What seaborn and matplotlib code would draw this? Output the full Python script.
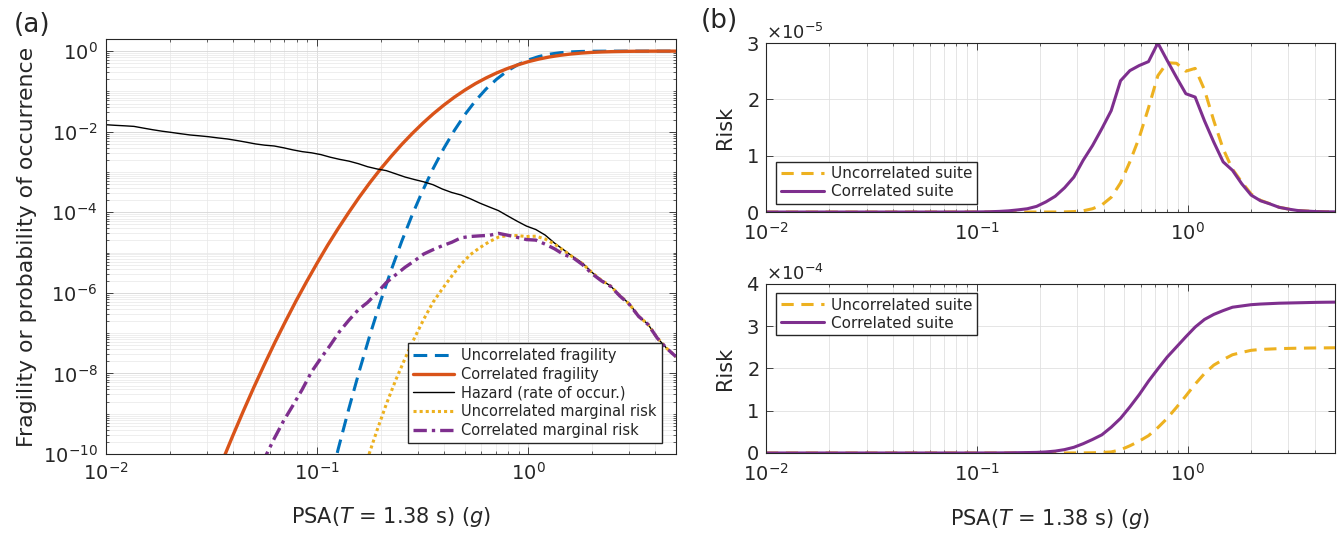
import numpy as np
import pandas as pd
import matplotlib
matplotlib.use("Agg")
import matplotlib.pyplot as plt
import seaborn as sns
from matplotlib.ticker import (LogLocator, NullFormatter, LogFormatterSciNotation,
                               ScalarFormatter, FixedLocator)

# ---------------------------------------------------------------------------
# Spectral acceleration grid (g) for hazard and risk
psa = [0.01000, 0.01107, 0.01226, 0.01357, 0.01503, 0.01664, 0.01842, 0.02040, 0.02259, 0.02501,
       0.02769, 0.03066, 0.03396, 0.03760, 0.04163, 0.04610, 0.05105, 0.05652, 0.06259, 0.06930,
       0.07674, 0.08497, 0.09408, 0.1042, 0.1153, 0.1277, 0.1414, 0.1566, 0.1734, 0.1920,
       0.2126, 0.2354, 0.2606, 0.2886, 0.3195, 0.3538, 0.3917, 0.4338, 0.4803, 0.5318,
       0.5888, 0.6520, 0.7219, 0.7993, 0.8851, 0.9800, 1.085, 1.201, 1.330, 1.473,
       1.631, 1.806, 2.000, 2.214, 2.452, 2.715, 3.006, 3.329, 3.686, 4.081,
       4.519, 5.000]

# Rate of occurrence of each PSA level
hazard = [1.49e-2, 1.44e-2, 1.40e-2, 1.355e-2, 1.23e-2, 1.12e-2, 1.03e-2, 9.6e-3, 8.9e-3, 8.3e-3,
          7.9e-3, 7.5e-3, 7.0e-3, 6.6e-3, 6.05e-3, 5.5e-3, 4.97e-3, 4.63e-3, 4.42e-3, 3.99e-3,
          3.54e-3, 3.20e-3, 2.99e-3, 2.70e-3, 2.33e-3, 2.06e-3, 1.86e-3, 1.61e-3, 1.35e-3, 1.19e-3,
          1.08e-3, 9.0e-4, 7.5e-4, 6.5e-4, 5.7e-4, 4.83e-4, 3.77e-4, 3.10e-4, 2.68e-4, 2.16e-4,
          1.69e-4, 1.36e-4, 1.10e-4, 8.1e-5, 6.0e-5, 4.54e-5, 3.73e-5, 2.72e-5, 1.72e-5, 1.16e-5,
          7.8e-6, 5.5e-6, 3.24e-6, 2.09e-6, 1.48e-6, 8.5e-7, 5.4e-7, 2.63e-7, 1.66e-7, 7.6e-8,
          4.2e-8, 2.6e-8]

# Marginal risk per PSA level
risk_uncorr = [0, 0, 0, 0, 0, 0, 0, 0, 0, 0,
               0, 0, 0, 0, 0, 0, 0, 0, 0, 0,
               0, 0, 0, 0, 0, 3.7e-13, 2.5e-12, 1.5e-11, 7.8e-11, 3.85e-10,
               1.73e-9, 6.8e-9, 2.34e-8, 7.5e-8, 2.2e-7, 5.85e-7, 1.26e-6, 2.61e-6, 5.16e-6, 8.9e-6,
               1.32e-5, 1.85e-5, 2.42e-5, 2.65e-5, 2.64e-5, 2.50e-5, 2.55e-5, 2.17e-5, 1.62e-5, 1.12e-5,
               7.6e-6, 5.3e-6, 3.2e-6, 2.08e-6, 1.48e-6, 8.5e-7, 5.3e-7, 2.63e-7, 1.66e-7, 7.6e-8,
               4.2e-8, 2.6e-8]

risk_corr = [0, 0, 0, 0, 0, 0, 0, 0, 0, 0,
             0, 7e-14, 2.6e-13, 9e-13, 2.9e-12, 9.3e-12, 2.8e-11, 8.1e-11, 2.4e-10, 6.6e-10,
             1.6e-9, 4.0e-9, 1.1e-8, 2.4e-8, 5.0e-8, 1.1e-7, 2.1e-7, 3.8e-7, 5.8e-7, 1.0e-6,
             1.8e-6, 2.8e-6, 4.3e-6, 6.2e-6, 9.2e-6, 1.18e-5, 1.48e-5, 1.80e-5, 2.33e-5, 2.51e-5,
             2.60e-5, 2.67e-5, 3.00e-5, 2.69e-5, 2.39e-5, 2.10e-5, 2.04e-5, 1.62e-5, 1.24e-5, 8.9e-6,
             7.4e-6, 5.0e-6, 3.0e-6, 2.0e-6, 1.45e-6, 8.3e-7, 5.2e-7, 2.6e-7, 1.65e-7, 7.5e-8,
             4.2e-8, 2.6e-8]

# Cumulative risk up to each PSA level
cum_risk_uncorr = [0, 0, 0, 0, 0, 0, 0, 0, 0, 0,
                   0, 0, 0, 0, 0, 0, 0, 0, 0, 0,
                   0, 0, 0, 0, 0, 0, 0, 0, 0, 0,
                   0, 1e-8, 3e-8, 1e-7, 2e-7, 5e-7, 1.2e-6, 2.5e-6, 7.5e-6, 1.7e-5,
                   2.8e-5, 4.1e-5, 6.0e-5, 8.2e-5, 1.08e-4, 1.35e-4, 1.63e-4, 1.88e-4, 2.08e-4, 2.21e-4,
                   2.325e-4, 2.38e-4, 2.43e-4, 2.45e-4, 2.46e-4, 2.47e-4, 2.475e-4, 2.48e-4, 2.483e-4, 2.486e-4,
                   2.488e-4, 2.49e-4]

cum_risk_corr = [0, 0, 0, 0, 0, 0, 0, 0, 0, 0,
                 0, 0, 0, 0, 0, 0, 0, 0, 0, 0,
                 0, 0, 2e-8, 4e-8, 1.0e-7, 2e-7, 4e-7, 7e-7, 1.0e-6, 1.4e-6,
                 2.5e-6, 4.5e-6, 8.0e-6, 1.35e-5, 2.2e-5, 3.2e-5, 4.3e-5, 6.1e-5, 8.2e-5, 1.09e-4,
                 1.38e-4, 1.70e-4, 1.99e-4, 2.27e-4, 2.51e-4, 2.75e-4, 2.98e-4, 3.16e-4, 3.28e-4, 3.37e-4,
                 3.45e-4, 3.48e-4, 3.51e-4, 3.525e-4, 3.535e-4, 3.545e-4, 3.55e-4, 3.555e-4, 3.56e-4, 3.565e-4,
                 3.568e-4, 3.57e-4]

# Fragility curves
frag_psa = [0.02818, 0.03162, 0.03548, 0.03981, 0.04467, 0.05012, 0.05623, 0.06310, 0.07079, 0.07943,
            0.08913, 0.1000, 0.1122, 0.1259, 0.1413, 0.1585, 0.1778, 0.1995, 0.2239, 0.2512,
            0.2818, 0.3162, 0.3548, 0.3981, 0.4467, 0.5012, 0.5623, 0.6310, 0.7079, 0.7943,
            0.8913, 1.000, 1.122, 1.259, 1.413, 1.585, 1.778, 1.995, 2.239, 2.512,
            2.818, 3.162, 3.548, 3.981, 4.467, 5.012]

frag_uncorr = [0, 0, 0, 0, 0, 0, 0, 0, 0, 0,
               6e-14, 1.0e-12, 1.2e-11, 1.35e-10, 1.34e-9, 1.17e-8, 9.0e-8, 6.1e-7, 3.6e-6, 1.88e-5,
               8.6e-5, 3.47e-4, 1.24e-3, 3.89e-3, 0.0108, 0.0268, 0.0588, 0.1153, 0.2014, 0.3206,
               0.4598, 0.6045, 0.7360, 0.8404, 0.9134, 0.9579, 0.9818, 0.9930, 0.9976, 0.9993,
               0.9998, 1.0, 1.0, 1.0, 1.0, 1.0]

frag_corr = [3.0e-12, 1.44e-11, 6.5e-11, 2.8e-10, 1.15e-9, 4.5e-9, 1.66e-8, 5.9e-8, 1.96e-7, 6.3e-7,
             1.9e-6, 5.5e-6, 1.53e-5, 4.0e-5, 1.0e-4, 2.4e-4, 5.46e-4, 1.18e-3, 2.43e-3, 4.8e-3,
             9.0e-3, 0.0162, 0.0279, 0.0458, 0.0721, 0.1084, 0.1567, 0.2163, 0.2877, 0.3683,
             0.4562, 0.548, 0.6357, 0.7167, 0.7876, 0.8471, 0.8944, 0.9300, 0.9555, 0.9730,
             0.9843, 0.9913, 0.9954, 0.9977, 0.9989, 0.9995]

# ---------------------------------------------------------------------------
BLUE = "#0072BD"
ORANGE = "#D95319"
YELLOW = "#EDB120"
PURPLE = "#7E2F8E"
INK = "#262626"

sns.set_style("ticks")
plt.rcParams.update({
    "font.family": ["DejaVu Sans"],
    "mathtext.fontset": "dejavusans",
    "axes.edgecolor": INK,
    "axes.linewidth": 0.8,
    "xtick.color": INK,
    "ytick.color": INK,
    "xtick.direction": "in",
    "ytick.direction": "in",
    "xtick.top": True,
    "ytick.right": True,
    "xtick.major.size": 5,
    "ytick.major.size": 5,
    "xtick.minor.size": 2.5,
    "ytick.minor.size": 2.5,
    "xtick.major.width": 0.6,
    "ytick.major.width": 0.6,
    "xtick.minor.width": 0.5,
    "ytick.minor.width": 0.5,
    "legend.edgecolor": INK,
})

fig = plt.figure(figsize=(13.38, 5.35), dpi=100)
ax_a = fig.add_axes([0.0792, 0.1514, 0.4260, 0.7757])
ax_r = fig.add_axes([0.5725, 0.6037, 0.4253, 0.3159])
ax_c = fig.add_axes([0.5725, 0.1533, 0.4253, 0.3159])


def draw(ax, x, y, positive=False, **kw):
    d = pd.DataFrame({"x": x, "y": y})
    if positive:
        d = d[d["y"] > 0]
    sns.lineplot(data=d, x="x", y="y", ax=ax, estimator=None, sort=False, **kw)


# ---------------------------------------------------------------- panel (a)
ax_a.set_xscale("log")
ax_a.set_yscale("log", nonpositive="mask")
draw(ax_a, frag_psa, frag_uncorr, positive=True, color=BLUE, lw=2.2,
     linestyle=(0, (4.5, 2.5)), label="Uncorrelated fragility")
draw(ax_a, frag_psa, frag_corr, positive=True, color=ORANGE, lw=2.4,
     label="Correlated fragility")
draw(ax_a, psa, hazard, positive=True, color="black", lw=1.0,
     label="Hazard (rate of occur.)")
draw(ax_a, psa, risk_uncorr, positive=True, color=YELLOW, lw=2.2,
     linestyle=(0, (1, 1)), label="Uncorrelated marginal risk")
draw(ax_a, psa, risk_corr, positive=True, color=PURPLE, lw=2.4,
     linestyle=(0, (4, 1.5, 1, 1.5)), label="Correlated marginal risk")

ax_a.set_xlim(0.01, 5)
ax_a.set_ylim(1e-10, 2)
ax_a.yaxis.set_major_locator(FixedLocator([1e-10, 1e-8, 1e-6, 1e-4, 1e-2, 1e0]))
ax_a.yaxis.set_major_formatter(LogFormatterSciNotation())
ax_a.yaxis.set_minor_locator(LogLocator(base=10, subs=np.arange(1, 10), numticks=60))
ax_a.yaxis.set_minor_formatter(NullFormatter())
ax_a.xaxis.set_minor_locator(LogLocator(base=10, subs=np.arange(2, 10), numticks=30))
ax_a.xaxis.set_minor_formatter(NullFormatter())
ax_a.set_axisbelow(True)
ax_a.grid(which="major", color="#d6d6d6", lw=0.6)
ax_a.grid(which="minor", color="#e8e8e8", lw=0.5)
ax_a.tick_params(labelsize=14, pad=6)
ax_a.set_xlabel("PSA($T$ = 1.38 s) ($g$)", fontsize=15, labelpad=15)
ax_a.set_ylabel("Fragility or probability of occurrence", fontsize=15.8, labelpad=4)
ax_a.legend(loc="lower right", bbox_to_anchor=(0.975, 0.027), frameon=True,
            fancybox=False, framealpha=1, fontsize=10.5, handlelength=2.8,
            borderpad=0.35, labelspacing=0.25, handletextpad=0.5, borderaxespad=0)

# ---------------------------------------------------------------- panel (b)
for ax, unc, cor, top, loc, anchor in [
        (ax_r, risk_uncorr, risk_corr, 3e-5, "lower left", (0.018, 0.047)),
        (ax_c, cum_risk_uncorr, cum_risk_corr, 4e-4, "upper left", (0.018, 0.947))]:
    ax.set_xscale("log")
    draw(ax, psa, unc, color=YELLOW, lw=2.2, linestyle=(0, (4, 2.5)),
         label="Uncorrelated suite")
    draw(ax, psa, cor, color=PURPLE, lw=2.2, label="Correlated suite")
    ax.set_xlim(0.01, 5)
    ax.set_ylim(0, top)
    step = top / (3 if top < 1e-4 else 4)
    ax.yaxis.set_major_locator(FixedLocator(np.arange(0, top + step / 2, step)))
    fmt = ScalarFormatter(useMathText=True)
    fmt.set_powerlimits((-3, 3))
    ax.yaxis.set_major_formatter(fmt)
    ax.yaxis.get_offset_text().set_fontsize(13)
    ax.xaxis.set_minor_locator(LogLocator(base=10, subs=np.arange(2, 10), numticks=30))
    ax.xaxis.set_minor_formatter(NullFormatter())
    ax.set_axisbelow(True)
    ax.grid(axis="x", which="both", color="#e0e0e0", lw=0.6)
    ax.grid(axis="y", which="major", color="#e0e0e0", lw=0.6)
    ax.tick_params(axis="y", labelsize=14, pad=5)
    ax.tick_params(axis="x", labelsize=14, pad=7)
    ax.set_ylabel("Risk", fontsize=15, labelpad=8)
    ax.set_xlabel("")
    ax.legend(loc=loc, bbox_to_anchor=anchor, frameon=True, fancybox=False,
              framealpha=1, fontsize=11, handlelength=2.8, borderpad=0.3,
              labelspacing=0.2, handletextpad=0.5, borderaxespad=0)

ax_c.set_xlabel("PSA($T$ = 1.38 s) ($g$)", fontsize=15, labelpad=16)

fig.text(14 / 1338, 1 - 25 / 535, "(a)", fontsize=19, va="center", ha="left")
fig.text(701 / 1338, 1 - 21 / 535, "(b)", fontsize=19, va="center", ha="left")

fig.savefig("out.png", dpi=100)
